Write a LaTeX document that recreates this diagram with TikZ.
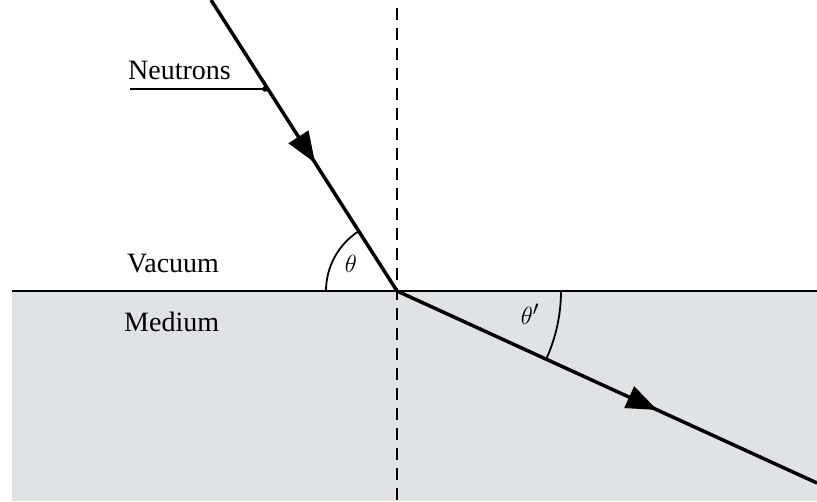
\documentclass[tikz,border=0pt]{standalone}
\usepackage{fontspec}
\setmainfont{Liberation Serif}
\usetikzlibrary{arrows.meta,decorations.markings,calc}
\definecolor{medium}{RGB}{224,227,230}
\tikzset{
  ray/.style={line width=3.5pt},
  iface/.style={line width=2pt},
  normal/.style={line width=1.8pt,dash pattern=on 12pt off 8pt},
  anglearc/.style={line width=1.8pt},
  lbl/.style={font=\fontsize{28}{31}\selectfont,inner sep=0pt},
  glbl/.style={font=\fontsize{31}{34}\selectfont,inner sep=0pt},
  midarrow/.style={postaction={decorate},decoration={markings,
    mark=at position #1 with {\arrow{Triangle[length=31pt,width=23pt]}}}}
}
\begin{document}
\begin{tikzpicture}[x=1pt,y=1pt]
\useasboundingbox (0,0) rectangle (817,501);
\fill[medium] (12,0) rectangle (817,210);
\coordinate (O) at (397,210);
\coordinate (A) at (211,501);
\coordinate (B) at (817,18);
\coordinate (Ntop) at (397,493);
\coordinate (Nbot) at (397,0);
\coordinate (L) at (12,210);
\coordinate (R) at (817,210);
\draw[normal] (Ntop) -- (Nbot);
\draw[iface] (L) -- (R);
\draw[ray,midarrow=0.56] (A) -- (O);
\draw[ray,midarrow=0.62] (O) -- (B);
% angle arcs
\draw[anglearc] ($(O)+(180:71)$) arc[start angle=180,end angle=122.6,radius=71];
\draw[anglearc] ($(O)+(0:164)$) arc[start angle=0,end angle=-24.6,radius=164];
\node[glbl] (th) at (351,237) {$\theta$};
\node[glbl] (thp) at (530,187) {$\theta'$};
% labels
\node[lbl,anchor=base west] (neut) at (128,421) {Neutrons};
\coordinate (nl0) at (130,412);
\coordinate (nl1) at (265,412);
\draw[line width=1.8pt] (nl0) -- (nl1);
\fill (nl1) circle[radius=2.8];
\node[lbl,anchor=base west] (vac) at (127,228) {Vacuum};
\node[lbl,anchor=base west] (med) at (124,169) {Medium};
\end{tikzpicture}
\end{document}
